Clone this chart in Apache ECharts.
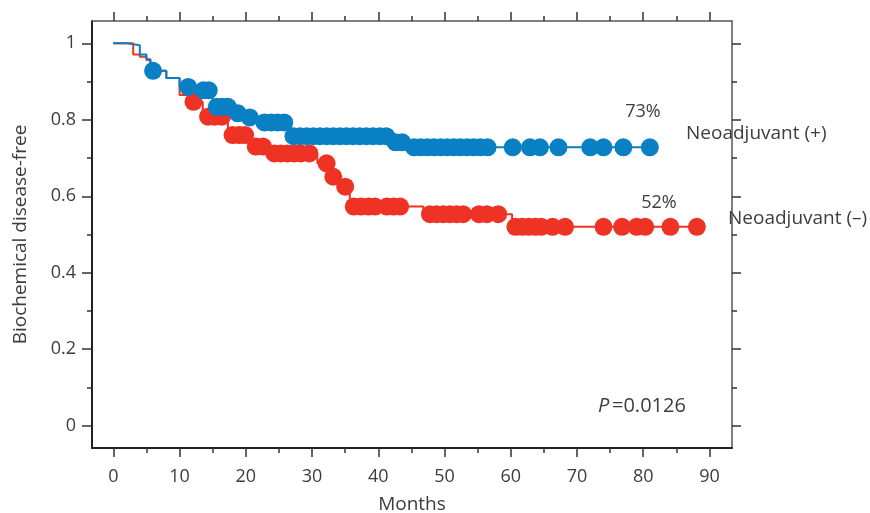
<!DOCTYPE html>
<html>
<head>
<meta charset="utf-8">
<script src="https://cdn.jsdelivr.net/npm/echarts@6/dist/echarts.min.js"></script>
<style>html,body{margin:0;padding:0;background:#fff}#c{width:870px;height:513px}</style>
</head>
<body>
<div id="c"></div>
<script>
// ---- data ----
const xMajor = [0, 10, 20, 30, 40, 50, 60, 70, 80, 90];
const xMinor = [5, 15, 25, 35, 45, 55, 65, 75, 85];
const yMajor = [0, 0.2, 0.4, 0.6, 0.8, 1];
const yMinor = [0.1, 0.3, 0.5, 0.7, 0.9];

// Kaplan-Meier step curves: [month, survival]
const blueSteps = [[0,1],[2,0.995],[4,0.971],[5,0.958],[5.6,0.928],[8,0.909],[10,0.886],[12.5,0.877],[15,0.834],[18,0.817],[20,0.806],[22,0.793],[26.8,0.757],[42,0.741],[44.8,0.728],[81,0.728]];
const redSteps = [[0,1],[3,0.971],[4,0.965],[5,0.956],[5.6,0.928],[8,0.909],[10,0.865],[11.8,0.847],[13.5,0.808],[17.3,0.76],[20.5,0.73],[23.5,0.712],[30.8,0.686],[32.7,0.651],[34.2,0.625],[35.7,0.573],[46.8,0.553],[60.2,0.52],[88.1,0.52]];

// censored observations: [month, survival]
const blueCensor = [[6,0.928],[11.3,0.886],[13.6,0.877],[14.4,0.877],[15.6,0.834],[16.4,0.834],[17.3,0.834],[18.8,0.817],[20.6,0.806],[22.8,0.793],[23.8,0.793],[24.8,0.793],[25.8,0.793],[27.2,0.757],[28.2,0.757],[29.2,0.757],[30.2,0.757],[31.2,0.757],[32.2,0.757],[33.2,0.757],[34.2,0.757],[35.2,0.757],[36.2,0.757],[37.2,0.757],[38.2,0.757],[39.2,0.757],[40.2,0.757],[41.2,0.757],[42.6,0.741],[43.6,0.741],[45.4,0.728],[46.4,0.728],[47.4,0.728],[48.4,0.728],[49.4,0.728],[50.4,0.728],[51.4,0.728],[52.4,0.728],[53.4,0.728],[54.4,0.728],[55.4,0.728],[56.5,0.728],[60.3,0.728],[62.9,0.728],[64.4,0.728],[67.2,0.728],[72,0.728],[74,0.728],[77,0.728],[81,0.728]];
const redCensor = [[12.1,0.847],[14.3,0.808],[15.3,0.808],[16.4,0.808],[18,0.76],[19,0.76],[19.9,0.76],[21.5,0.73],[22.6,0.73],[24.3,0.712],[25.3,0.712],[26.3,0.712],[27.3,0.712],[28.3,0.712],[29.6,0.712],[32.2,0.686],[33.2,0.651],[35,0.625],[36.3,0.573],[37.4,0.573],[38.5,0.573],[39.5,0.573],[41.3,0.573],[42.3,0.573],[43.3,0.573],[47.8,0.553],[48.8,0.553],[49.8,0.553],[50.8,0.553],[51.8,0.553],[52.8,0.553],[55.2,0.553],[56.4,0.553],[58.1,0.553],[60.7,0.52],[61.7,0.52],[62.7,0.52],[63.7,0.52],[64.6,0.52],[66.3,0.52],[68.2,0.52],[74,0.52],[76.8,0.52],[79,0.52],[80.3,0.52],[84.1,0.52],[88.1,0.52]];

const blueLabel = 'Neoadjuvant (+)';
const redLabel = 'Neoadjuvant (\u2013)';
const bluePct = '73%';
const redPct = '52%';
const pText = '=0.0126';

// ---- styling ----
const FONT = 'Open Sans';
const TXT = '#3d3d3d';
const BLUE = '#0a80c4';
const RED = '#ee3224';
const XMIN = -3.22, XMAX = 93.4, YMIN = -0.0583, YMAX = 1.0583;

function xAx(pos, vals, len, opts) {
  return Object.assign({
    type: 'value', position: pos, min: XMIN, max: XMAX,
    axisLine: {show: false, onZero: false},
    axisTick: {show: true, inside: false, length: len, customValues: vals, lineStyle: {color: '#333', width: 1.5}},
    axisLabel: {show: false},
    splitLine: {show: false}
  }, opts || {});
}
function yAx(pos, vals, len, opts) {
  return Object.assign({
    type: 'value', position: pos, min: YMIN, max: YMAX,
    axisLine: {show: false, onZero: false},
    axisTick: {show: true, inside: false, length: len, customValues: vals, lineStyle: {color: '#333', width: 1.5}},
    axisLabel: {show: false},
    splitLine: {show: false}
  }, opts || {});
}

const chart = echarts.init(document.getElementById('c'), null, {renderer: 'canvas'});
chart.setOption({
  animation: false,
  backgroundColor: '#fff',
  textStyle: {fontFamily: FONT},
  grid: {left: 92, right: 138, top: 21, bottom: 65, containLabel: false, outerBoundsMode: 'none'},
  xAxis: [
    xAx('bottom', xMajor, 9, {
      axisLine: {show: true, onZero: false, lineStyle: {color: '#222', width: 2}},
      axisLabel: {show: true, customValues: xMajor, margin: 20, fontSize: 18, color: TXT, fontFamily: FONT},
      name: 'Months', nameLocation: 'middle', nameGap: 47,
      nameTextStyle: {fontSize: 19, color: TXT, fontFamily: FONT}
    }),
    xAx('bottom', xMinor, 5),
    xAx('top', xMajor, 9, {axisLine: {show: true, onZero: false, lineStyle: {color: '#555', width: 1.5}}}),
    xAx('top', xMinor, 5)
  ],
  yAxis: [
    yAx('left', yMajor, 10, {
      axisLine: {show: true, onZero: false, lineStyle: {color: '#222', width: 2}},
      axisLabel: {show: true, customValues: yMajor, margin: 16, fontSize: 18, color: TXT, fontFamily: FONT,
        formatter: v => (Math.abs(v) < 1e-9 ? '0' : (v === 1 ? '1' : String(+v.toFixed(1))))},
      name: 'Biochemical disease-free', nameLocation: 'middle', nameGap: 62,
      nameTextStyle: {fontSize: 19, color: TXT, fontFamily: FONT}
    }),
    yAx('left', yMinor, 5),
    yAx('right', yMajor, 9, {axisLine: {show: true, onZero: false, lineStyle: {color: '#555', width: 1.5}}}),
    yAx('right', yMinor, 5)
  ],
  series: [
    {type: 'line', step: 'end', data: redSteps, showSymbol: false, symbol: 'none',
      lineStyle: {color: RED, width: 2}, z: 2},
    {type: 'scatter', data: redCensor, symbol: 'circle', symbolSize: 18,
      itemStyle: {color: RED, opacity: 1}, z: 3},
    {type: 'line', step: 'end', data: blueSteps, showSymbol: false, symbol: 'none',
      lineStyle: {color: BLUE, width: 2}, z: 4},
    {type: 'scatter', data: blueCensor, symbol: 'circle', symbolSize: 18,
      itemStyle: {color: BLUE, opacity: 1}, z: 5}
  ],
  graphic: [
    {type: 'text', x: 643, y: 112, style: {text: bluePct, font: '18px "Open Sans"', fill: TXT, align: 'center', verticalAlign: 'middle'}},
    {type: 'text', x: 659, y: 203, style: {text: redPct, font: '18px "Open Sans"', fill: TXT, align: 'center', verticalAlign: 'middle'}},
    {type: 'text', x: 686, y: 134, style: {text: blueLabel, font: '19px "Open Sans"', fill: TXT, verticalAlign: 'middle'}},
    {type: 'text', x: 728, y: 219, style: {text: redLabel, font: '19px "Open Sans"', fill: TXT, verticalAlign: 'middle'}},
    {type: 'text', x: 598, y: 406, style: {text: 'P', font: 'italic 20px "Open Sans"', fill: TXT, verticalAlign: 'middle'}},
    {type: 'text', x: 612, y: 406, style: {text: pText, font: '20px "Open Sans"', fill: TXT, verticalAlign: 'middle'}}
  ]
});
</script>
</body>
</html>
